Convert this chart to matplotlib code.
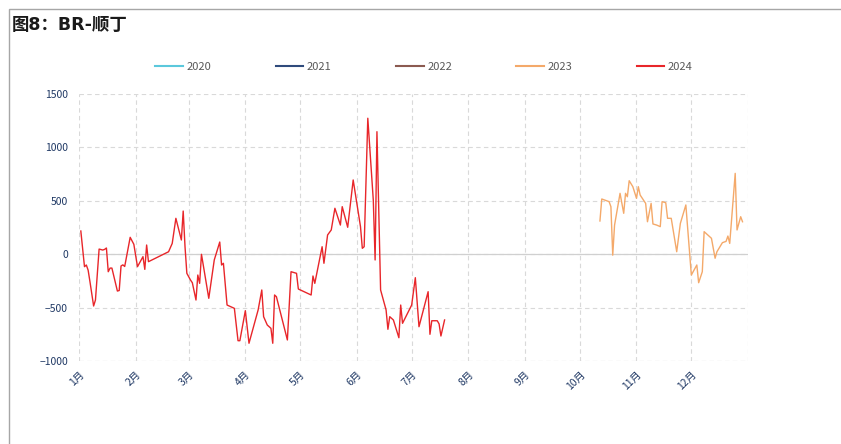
import matplotlib
matplotlib.use("Agg")
import matplotlib.pyplot as plt
import matplotlib.dates as mdates
import pandas as pd
from matplotlib.lines import Line2D
from matplotlib.patches import Rectangle

plt.rcParams["font.family"] = ["Noto Sans CJK SC", "DejaVu Sans"]

# ---- data (seasonal view, all years on a 2024 calendar) ----
years = ["2020", "2021", "2022", "2023", "2024"]
colors = ["#5bc8dc", "#2f4b7c", "#8b5a50", "#f4a96a", "#e8262a"]

dates_2024 = [
    "01-02", "01-04", "01-05", "01-06", "01-07", "01-09", "01-10", "01-12", "01-14", "01-15",
    "01-16", "01-17", "01-18", "01-19", "01-22", "01-23", "01-24", "01-25", "01-26", "01-29",
    "01-31", "02-02", "02-05", "02-06", "02-07", "02-08", "02-19", "02-21", "02-23", "02-26",
    "02-27", "02-28", "02-29", "03-02", "03-03", "03-05", "03-06", "03-07", "03-08", "03-12",
    "03-15", "03-18", "03-19", "03-20", "03-22", "03-26", "03-28", "03-29", "04-01", "04-03",
    "04-08", "04-10", "04-11", "04-13", "04-15", "04-16", "04-17", "04-18", "04-24", "04-26",
    "04-29", "04-30", "05-07", "05-08", "05-09", "05-13", "05-14", "05-16", "05-18", "05-20",
    "05-23", "05-24", "05-27", "05-30", "06-03", "06-04", "06-05", "06-07", "06-10", "06-11",
    "06-12", "06-14", "06-17", "06-18", "06-19", "06-21", "06-24", "06-25", "06-26", "07-01",
    "07-03", "07-05", "07-10", "07-11", "07-12", "07-15", "07-16", "07-17", "07-19",
]
values_2024 = [
    217, -117, -101, -150, -258, -485, -429, 48, 39, 45,
    58, -164, -130, -130, -345, -340, -110, -100, -115, 158,
    93, -117, -23, -142, 86, -70, 23, 101, 336, 133,
    404, 70, -179, -242, -267, -429, -195, -273, -1, -413,
    -54, 114, -101, -85, -476, -507, -810, -810, -529, -834,
    -522, -335, -585, -663, -694, -834, -382, -398, -803, -164,
    -179, -326, -382, -204, -273, 70, -85, 180, 227, 430,
    273, 445, 252, 695, 258, 55, 70, 1273, 507, -54,
    1147, -335, -522, -703, -585, -616, -782, -476, -647, -476,
    -220, -679, -351, -750, -623, -623, -653, -766, -616,
]

dates_2023 = [
    "10-12", "10-13", "10-17", "10-18", "10-19", "10-20", "10-23", "10-25", "10-26", "10-27",
    "10-28", "10-30", "11-01", "11-02", "11-03", "11-06", "11-07", "11-09", "11-10", "11-12",
    "11-14", "11-15", "11-17", "11-18", "11-20", "11-23", "11-25", "11-28", "12-01", "12-04",
    "12-05", "12-07", "12-08", "12-12", "12-14", "12-15", "12-18", "12-20", "12-21", "12-22",
    "12-25", "12-26", "12-28", "12-29",
]
values_2023 = [
    311, 517, 492, 445, -9, 273, 570, 383, 570, 538,
    688, 632, 523, 632, 554, 476, 304, 476, 283, 273,
    258, 492, 482, 336, 336, 23, 289, 461, -195, -101,
    -267, -164, 211, 149, -38, 23, 108, 120, 170, 101,
    757, 227, 351, 304,
]

month_labels = [f"{m}月" for m in range(1, 13)]


def to_dates(md):
    return pd.to_datetime(["2024-" + d for d in md])


W, H = 841, 444
fig = plt.figure(figsize=(W / 100, H / 100), dpi=100)

# outer frame
fig.patches.append(Rectangle((9 / W, -0.1), 1.2, 1 - 9 / H + 0.1, transform=fig.transFigure,
                             fill=False, edgecolor="#a6a6a6", linewidth=1.0))
fig.text(12 / W, 1 - 25 / H, "图8：BR-顺丁", fontsize=12.5, fontweight="bold",
         color="#1a1a1a", va="center", ha="left",
         family=["DejaVu Sans", "Noto Sans CJK SC"])

ax = fig.add_axes([79 / W, 1 - 361 / H, (748 - 79) / W, (361 - 94) / H])

ax.plot(to_dates(dates_2023), values_2023, color=colors[3], lw=1.0)
ax.plot(to_dates(dates_2024), values_2024, color=colors[4], lw=1.0)

ax.set_xlim(pd.Timestamp("2024-01-01"), pd.Timestamp("2025-01-01"))
ax.set_ylim(-1000, 1500)
ax.set_yticks(range(-1000, 1501, 500))
ax.xaxis.set_major_locator(mdates.MonthLocator())
ticks = ax.get_xticks()
ax.set_xticks(ticks[:12])
ax.set_xticklabels(month_labels, rotation=45, ha="right", rotation_mode="anchor")
ax.tick_params(axis="both", length=0, labelsize=7.5, labelcolor="#1f3864")
ax.tick_params(axis="x", pad=6)
ax.tick_params(axis="y", pad=8)

for s in ax.spines.values():
    s.set_visible(False)
ax.grid(True, color="#d9d9d9", linestyle=(0, (4, 3)), linewidth=0.8)
ax.axhline(0, color="#d0d0d0", lw=0.9, zorder=1)
ax.axvline(pd.Timestamp("2025-01-01"), color="#d9d9d9", linestyle=(0, (4, 3)), lw=0.8)
ax.axhline(-1000, color="#d9d9d9", linestyle=(0, (4, 3)), lw=0.8)
ax.set_axisbelow(True)

handles = [Line2D([], [], color=c, lw=1.5) for c in colors]
fig.legend(handles, years, loc="center", bbox_to_anchor=(424 / W, 1 - 67 / H), ncol=5,
           frameon=False, fontsize=8, handlelength=2.5, columnspacing=5.8,
           handletextpad=0.3, labelcolor="#595959")

fig.savefig("out.png", dpi=100)
